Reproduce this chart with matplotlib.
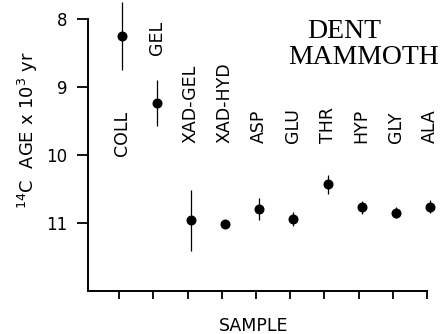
import matplotlib
matplotlib.use("Agg")
import matplotlib.pyplot as plt

samples = ["COLL", "GEL", "XAD-GEL", "XAD-HYD", "ASP", "GLU", "THR", "HYP", "GLY", "ALA"]
ages = [8.25, 9.23, 10.96, 11.01, 10.79, 10.94, 10.43, 10.77, 10.85, 10.76]  # x 10^3 yr
errors = [0.50, 0.34, 0.45, 0.04, 0.16, 0.10, 0.14, 0.10, 0.08, 0.10]
yticks = [8, 9, 10, 11]

# layout: where each rotated label ends (data units, y axis)
label_bottom = [10.01, 8.53, 9.82, 9.82, 9.82, 9.82, 9.82, 9.82, 9.82, 9.82]

fig = plt.figure(figsize=(4.42, 3.34), dpi=100)
ax = fig.add_axes([88 / 442, 1 - 291 / 334, (427 - 88) / 442, (291 - 19) / 334])

xs = list(range(1, len(samples) + 1))
px = [x + 0.09 for x in xs]
ax.errorbar(px, ages, yerr=errors, fmt="o", color="black", ms=6.2,
            elinewidth=0.9, capsize=0, clip_on=False, zorder=3)

for x, name, yb in zip(px, samples, label_bottom):
    ax.text(x, yb, name, rotation=90, ha="center", va="bottom",
            fontsize=12.5, family="DejaVu Sans", color="black")

ax.set_ylim(12, 8)
ax.set_xlim(1 - 31.3 / 34.2, 10)
ax.set_yticks(yticks)
ax.set_yticklabels([str(v) for v in yticks], fontsize=12)
ax.set_xticks(xs)
ax.set_xticklabels([])
ax.tick_params(axis="y", direction="out", length=8, width=1.3, pad=7)
ax.tick_params(axis="x", direction="out", length=6, width=1.3)
for s in ["top", "right"]:
    ax.spines[s].set_visible(False)
for s in ["left", "bottom"]:
    ax.spines[s].set_linewidth(1.4)

fig.text(28 / 442, 1 - 130 / 334, r"$^{14}$C  AGE x 10$^{3}$ yr", rotation=90,
         ha="center", va="center", fontsize=13)
fig.text(254 / 442, 1 - 326 / 334, "SAMPLE", ha="center", va="center", fontsize=12.5)
fig.text(344 / 442, 1 - 32 / 334, "DENT", ha="center", va="center",
         fontsize=20, family="Liberation Serif")
fig.text(288 / 442, 1 - 57 / 334, "MAMMOTH", ha="left", va="center",
         fontsize=20, family="Liberation Serif")

fig.savefig("out.png", dpi=100)
